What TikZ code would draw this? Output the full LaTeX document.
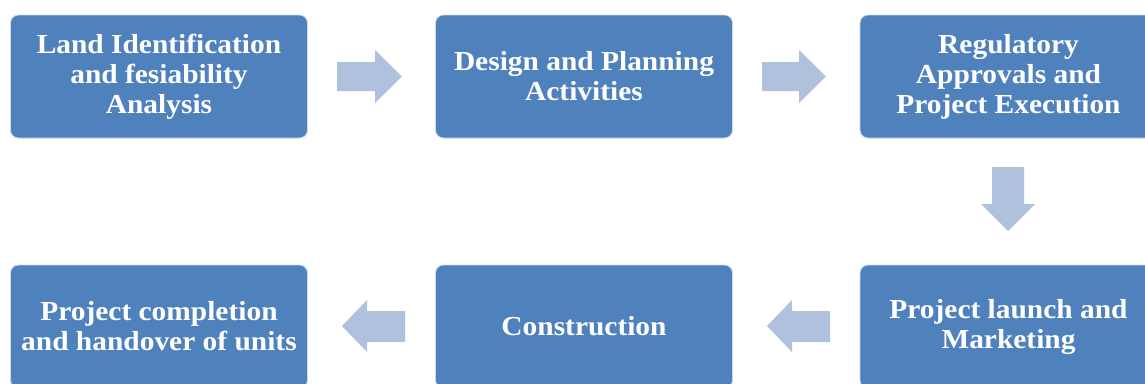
\documentclass[tikz,border=0pt]{standalone}
\usepackage{fontspec}
\setmainfont[FakeStretch=1.07]{Liberation Serif}
\begin{document}
\begin{tikzpicture}[x=1pt,y=-1pt,
  stage/.style={draw=white!70!boxblue, line width=0.8pt, fill=boxblue, rounded corners=8pt,
    minimum width=297pt, minimum height=123pt, inner sep=0pt, text=white,
    font=\bfseries\fontsize{27.5}{30}\selectfont, align=center},
  blockarrow/.style={fill=arrowblue, draw=none}]
\definecolor{boxblue}{HTML}{4F81BD}
\definecolor{arrowblue}{HTML}{B0C1DD}
\useasboundingbox (0,0) rectangle (1145,383);
\clip (0,0) rectangle (1145,383);
\node[stage] (s1) at (159,76.5) {Land Identification\\and fesiability\\Analysis};
\node[stage] (s2) at (584,76.5) {Design and Planning\\Activities};
\node[stage] (s3) at (1008.5,76.5) {Regulatory\\Approvals and\\Project Execution};
\node[stage] (s4) at (1008.5,326.5) {Project launch and\\Marketing};
\node[stage] (s5) at (584,326.5) {Construction};
\node[stage] (s6) at (159,326.5) {Project completion\\and handover of units};
% right arrows
\fill[blockarrow] (337,62) -- (375,62) -- (375,50) -- (402,76.5) -- (375,103) -- (375,91) -- (337,91) -- cycle;
\fill[blockarrow] (762,62) -- (799,62) -- (799,50) -- (826,76.5) -- (799,103) -- (799,91) -- (762,91) -- cycle;
% down arrow
\fill[blockarrow] (992,167) -- (1024,167) -- (1024,204) -- (1035,204) -- (1008,231) -- (981,204) -- (992,204) -- cycle;
% left arrows
\fill[blockarrow] (830,311) -- (792,311) -- (792,300) -- (767,326) -- (792,352) -- (792,342) -- (830,342) -- cycle;
\fill[blockarrow] (405,311) -- (367,311) -- (367,300) -- (342,326) -- (367,352) -- (367,342) -- (405,342) -- cycle;
\end{tikzpicture}
\end{document}
